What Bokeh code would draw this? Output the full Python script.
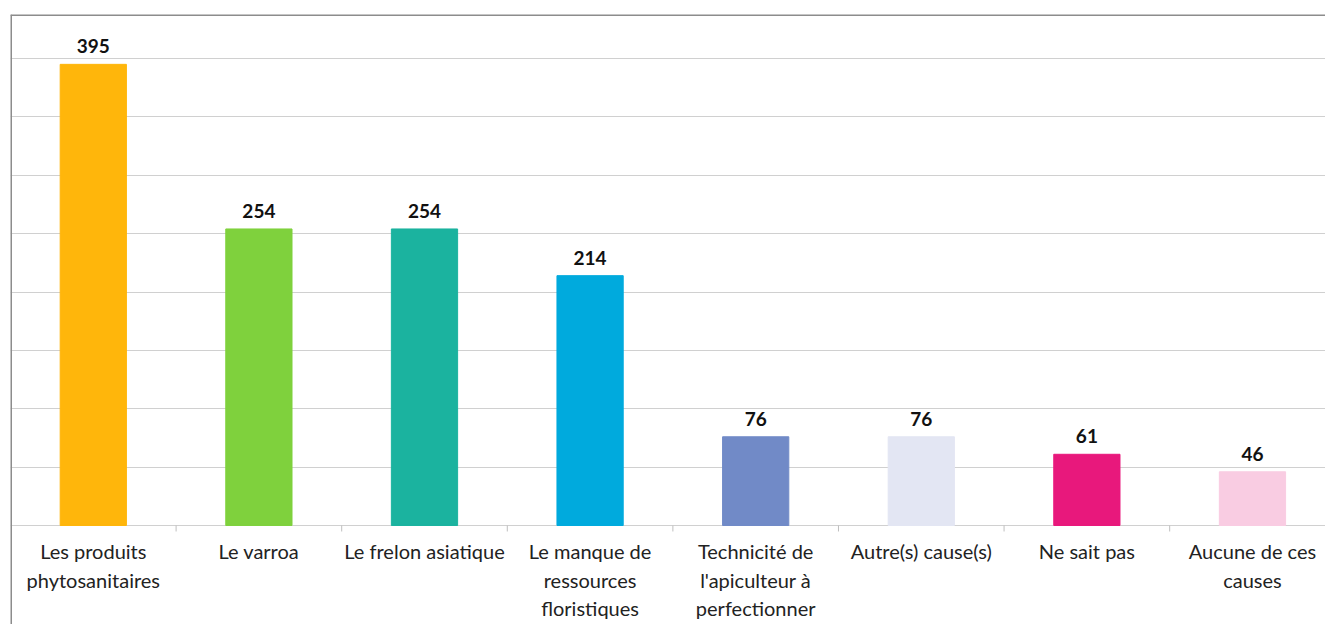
from bokeh.plotting import figure
from bokeh.models import Range1d, FixedTicker, Span, ColumnDataSource
from bokeh.core.properties import value
from bokeh.embed import file_html
from bokeh.resources import INLINE
import math

categories = [
    "Les produits\nphytosanitaires",
    "Le varroa",
    "Le frelon asiatique",
    "Le manque de\nressources\nfloristiques",
    "Technicité de\nl'apiculteur à\nperfectionner",
    "Autre(s) cause(s)",
    "Ne sait pas",
    "Aucune de ces\ncauses",
]
values = [395, 254, 254, 214, 76, 76, 61, 46]
colors = ["#FFB60B", "#7FD13D", "#1BB39F", "#00AADD", "#718AC7", "#E3E6F3", "#E8187C", "#F9CCE2"]
grid_ticks = [0, 50, 100, 150, 200, 250, 300, 350, 400]

centers = [i + 0.5 for i in range(len(categories))]
boundaries = list(range(1, len(categories)))

src = ColumnDataSource(dict(x=centers, top=values, color=colors,
                            lab=[str(v) for v in values], cat=categories,
                            zero=[0] * len(values)))

W, H = 1325, 624
p = figure(width=W, height=H, output_backend="svg", toolbar_location=None,
           x_range=Range1d(0, 7.941), y_range=Range1d(-84.8, 437.7),
           min_border_left=10, min_border_top=14, min_border_right=0, min_border_bottom=0)
p.xaxis.visible = False
p.yaxis.visible = False
p.xgrid.visible = False
p.ygrid.ticker = FixedTicker(ticks=grid_ticks)
p.ygrid.grid_line_color = "#d0d0d0"
p.ygrid.grid_line_width = 1
p.outline_line_color = None
p.background_fill_color = "white"
p.border_fill_color = "white"

p.vbar(x="x", top="top", bottom=0, width=0.4, color="color", source=src)

p.ray(x=boundaries, y=[0] * len(boundaries), length=6, length_units="screen",
      angle=-math.pi / 2, line_color="#bfbfbf", line_width=1)

p.text(x="x", y="top", text="lab", source=src, y_offset=-11,
       text_align="center", text_baseline="bottom",
       text_font=value("Lato"), text_font_style="bold", text_font_size="19px",
       text_color="#111111")

p.text(x="x", y="zero", text="cat", source=src, y_offset=14,
       text_align="center", text_baseline="top", text_line_height=1.18,
       text_font=value("Lato"), text_font_size="20px", text_color="#222222")

p.add_layout(Span(location=0, dimension="height", line_color="#8c8c8c", line_width=3))
p.add_layout(Span(location=437.7, dimension="width", line_color="#8c8c8c", line_width=3))

open("out.html", "w").write(file_html(p, INLINE))
